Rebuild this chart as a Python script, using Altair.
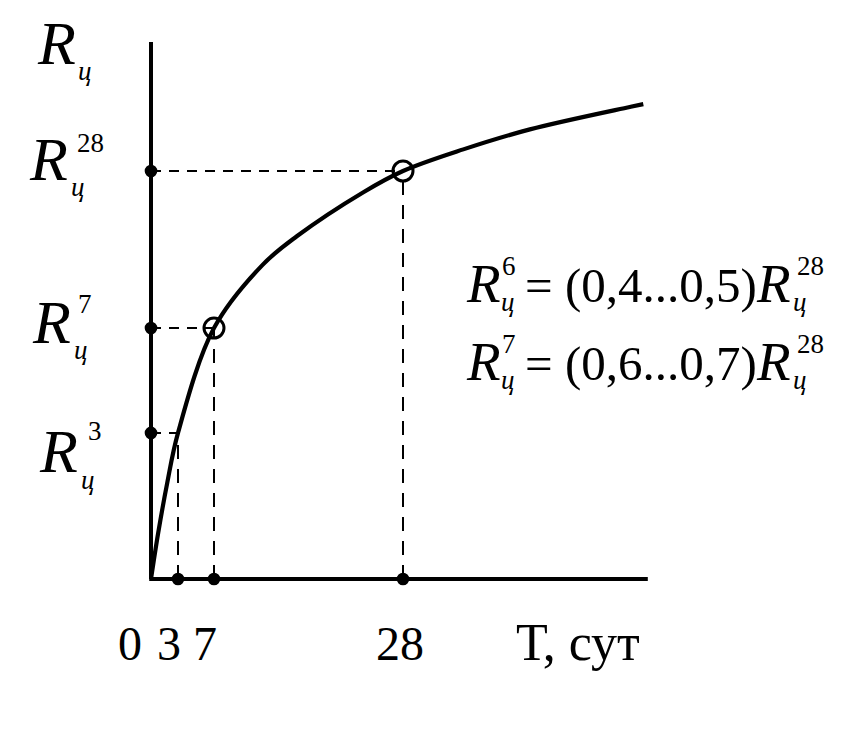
import altair as alt
import pandas as pd

# ---- data ----
curve_days = [0, 0.8, 1.8, 3, 7, 12.4, 16.2, 23.6, 28, 34.7, 42.1, 53.2, 54.7]
curve_strength = [0, 0.113, 0.235, 0.358, 0.615, 0.770, 0.840, 0.948, 1.0, 1.053, 1.102, 1.157, 1.164]
key_days = [3, 7, 28]
key_strength = [0.358, 0.615, 1.0]
key_sup = ["3", "7", "28"]
ringed_days = [7, 28]
ringed_strength = [0.615, 1.0]
x_axis_end = 55.2
y_axis_end = 1.316
x_tick_values = [0, 3, 7, 28]
x_tick_labels = ["0", "3", "7", "28"]
x_title = "Т, сут"
y_symbol = "R"
y_sub = "ц"
formula_sups = ["6", "7"]
formula_bodies = ["(0,4...0,5)", "(0,6...0,7)"]
formula_ref = "28"

# ---- layout ----
W, H = 840, 728
xs = alt.Scale(domain=[(8 - 151) / 9.0, (848 - 151) / 9.0], nice=False, zero=False)
ys = alt.Scale(domain=[-157 / 408, 571 / 408], nice=False, zero=False)
FONT = "Liberation Serif"


def X(f="x"):
    return alt.X(f"{f}:Q", scale=xs, axis=None)


def Y(f="y"):
    return alt.Y(f"{f}:Q", scale=ys, axis=None)


def label(x, y, text, size, dx, dy, italic=False, align="left"):
    df = pd.DataFrame({"x": [x], "y": [y], "t": [text]})
    return alt.Chart(df).mark_text(
        font=FONT, fontSize=size, fontStyle="italic" if italic else "normal",
        align=align, baseline="alphabetic", dx=dx, dy=dy, color="black"
    ).encode(x=X(), y=Y(), text="t:N")


def free_text(px, py, text, size, italic=False):
    df = pd.DataFrame({"t": [text]})
    return alt.Chart(df).mark_text(
        font=FONT, fontSize=size, fontStyle="italic" if italic else "normal",
        align="left", baseline="alphabetic", color="black"
    ).encode(x=alt.value(px - 8), y=alt.value(py - 8), text="t:N")


layers = []

# axes
axes_df = pd.DataFrame({"x": [0, -0.2], "x2": [0, x_axis_end], "y": [0, 0], "y2": [y_axis_end, 0]})
layers.append(alt.Chart(axes_df).mark_rule(color="black", strokeWidth=4).encode(
    x=X(), x2="x2:Q", y=Y(), y2="y2:Q"))

# dashed guides
h_df = pd.DataFrame({"x": [0] * 3, "x2": key_days, "y": key_strength})
v_df = pd.DataFrame({"x": key_days, "y": [0] * 3, "y2": key_strength})
layers.append(alt.Chart(h_df).mark_rule(color="black", strokeWidth=2, strokeDash=[10, 8]).encode(
    x=X(), x2="x2:Q", y=Y()))
layers.append(alt.Chart(v_df).mark_rule(color="black", strokeWidth=2, strokeDash=[14, 10]).encode(
    x=X(), y=Y(), y2="y2:Q"))

# curve
curve_df = pd.DataFrame({"x": curve_days, "y": curve_strength})
layers.append(alt.Chart(curve_df).mark_line(color="black", strokeWidth=4.2, interpolate="catmull-rom").encode(
    x=X(), y=Y()))

# filled dots on axes
dots_df = pd.DataFrame({"x": [0] * 3 + key_days, "y": key_strength + [0] * 3})
layers.append(alt.Chart(dots_df).mark_circle(color="black", size=160, opacity=1).encode(x=X(), y=Y()))

# rings on curve
ring_df = pd.DataFrame({"x": ringed_days, "y": ringed_strength})
layers.append(alt.Chart(ring_df).mark_point(shape="circle", filled=False, color="black",
                                            size=400, strokeWidth=3, opacity=1).encode(x=X(), y=Y()))

# y-axis labels
R_SIZE, SMALL = 62, 27
layers.append(label(0, y_axis_end, y_symbol, R_SIZE, -113, 22, italic=True))
layers.append(label(0, y_axis_end, y_sub, SMALL, -73, 38, italic=True))
ylab_off = {
    "3": dict(R=(-111, 39), sup=(-63, 7), sub=(-70, 56)),
    "7": dict(R=(-118, 15), sup=(-73, -15), sub=(-77, 31)),
    "28": dict(R=(-121, 9), sup=(-74, -19), sub=(-80, 25)),
}
for s, v in zip(key_sup, key_strength):
    o = ylab_off[s]
    layers.append(label(0, v, y_symbol, R_SIZE, o["R"][0], o["R"][1], italic=True))
    layers.append(label(0, v, s, SMALL, o["sup"][0], o["sup"][1]))
    layers.append(label(0, v, y_sub, SMALL, o["sub"][0], o["sub"][1], italic=True))

# x-axis labels
x_dx = {"0": -21, "3": -9, "7": -9, "28": -3}
for v, t in zip(x_tick_values, x_tick_labels):
    layers.append(label(v, 0, t, 48, x_dx[t], 81, align="center"))
layers.append(label(x_axis_end, 0, x_title, 52, -8, 81, align="right"))

# formulas
for i, (sup, body) in enumerate(zip(formula_sups, formula_bodies)):
    base = 302 + 78 * i
    layers.append(free_text(467, base, y_symbol, 55, italic=True))
    layers.append(free_text(502, base - 27, sup, SMALL))
    layers.append(free_text(501, base + 9, y_sub, SMALL, italic=True))
    layers.append(free_text(525, base, "=", 49))
    layers.append(free_text(565, base, body, 49))
    layers.append(free_text(757, base, y_symbol, 55, italic=True))
    layers.append(free_text(797, base - 27, formula_ref, SMALL))
    layers.append(free_text(793, base + 9, y_sub, SMALL, italic=True))

chart = alt.layer(*layers).properties(
    width=W, height=H, padding=0, autosize=alt.AutoSizeParams(type="none"), background="white"
).configure_view(stroke=None)

chart.save("out.html", embed_options={"renderer": "svg", "actions": False})
